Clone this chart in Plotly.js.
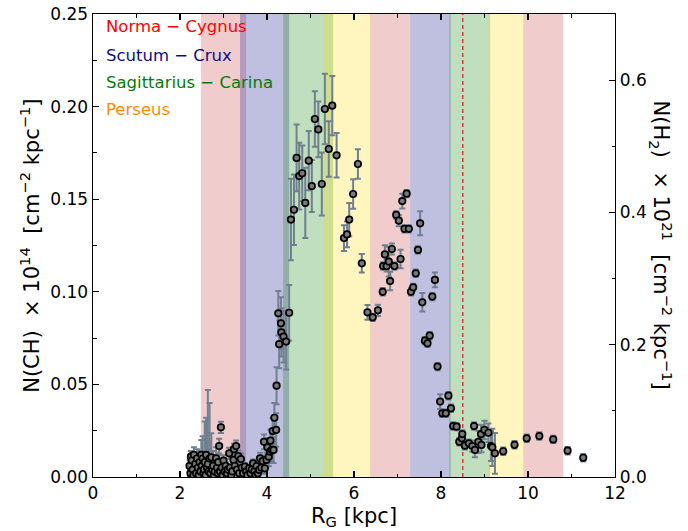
<!DOCTYPE html>
<html>
<head>
<meta charset="utf-8">
<script src="https://cdn.plot.ly/plotly-3.0.1.min.js"></script>
<style>html,body{margin:0;padding:0;background:#fff;}#chart{width:688px;height:531px;}</style>
</head>
<body>
<div id="chart"></div>
<script>
// Galactocentric radius (kpc)
const rg = [2.22,2.24,2.25,2.27,2.29,2.31,2.32,2.35,2.37,2.39,2.41,2.43,2.45,2.47,2.49,2.50,2.52,2.54,2.55,2.57,
2.59,2.60,2.62,2.64,2.66,2.68,2.70,2.72,2.74,2.76,2.78,2.80,2.83,2.85,2.87,2.88,2.90,2.92,2.94,2.96,
2.98,3.00,3.03,3.05,3.08,3.10,3.13,3.15,3.18,3.20,3.23,3.24,3.26,3.29,3.31,3.34,3.36,3.40,3.42,3.45,
3.49,3.52,3.55,3.59,3.62,3.65,3.68,3.71,3.74,3.76,3.79,3.82,3.84,3.87,3.90,3.93,3.95,3.99,4.01,4.04,
4.07,4.08,4.11,4.13,4.15,4.17,4.21,4.22,4.26,4.28,4.32,4.33,4.38,4.44,4.51,4.55,4.62,4.68,4.74,4.81,
4.88,4.96,5.03,5.10,5.18,5.26,5.33,5.42,5.50,5.60,5.77,5.84,5.89,5.98,6.09,6.18,6.31,6.43,6.55,6.66,
6.67,6.71,6.75,6.80,6.83,6.87,6.93,6.97,7.03,7.07,7.11,7.16,7.21,7.26,7.31,7.36,7.42,7.47,7.52,7.57,
7.63,7.69,7.74,7.80,7.86,7.92,7.98,8.03,8.11,8.17,8.23,8.28,8.36,8.42,8.48,8.49,8.55,8.64,8.72,8.76,
8.78,8.86,8.92,8.93,9.00,9.09,9.15,9.18,9.24,9.43,9.69,9.97,10.26,10.58,10.91,11.27];
// N(CH) x 1e14 [cm^-2 kpc^-1]
const nch = [0.006,0.002,0.011,0.009,0.004,0.001,0.012,0.007,0.002,0.010,0.005,0.001,0.008,0.003,0.012,0.006,0.010,0.002,0.004,0.008,
0.001,0.012,0.005,0.007,0.003,0.010,0.002,0.0106,0.004,0.006,0.001,0.003,0.0101,0.005,0.002,0.008,0.0167,0.003,0.0268,0.005,
0.001,0.0088,0.003,0.006,0.002,0.004,0.0128,0.005,0.001,0.003,0.0092,0.015,0.006,0.0167,0.004,0.0113,0.002,0.0097,0.005,0.002,
0.0056,0.003,0.001,0.0047,0.002,0.004,0.0074,0.003,0.001,0.0059,0.002,0.0038,0.0101,0.005,0.0086,0.019,0.0047,0.0092,0.016,0.011,
0.0137,0.0196,0.0146,0.0248,0.0146,0.032,0.0254,0.0493,0.0884,0.0717,0.083,0.0781,0.0758,0.0731,0.0887,0.139,0.1443,0.1723,0.1625,0.164,
0.148,0.1708,0.1571,0.1933,0.1877,0.1582,0.1987,0.1771,0.2005,0.1737,0.129,0.131,0.139,0.1528,0.169,0.1154,0.0889,0.0862,0.090,0.100,
0.1139,0.1202,0.1139,0.1163,0.1058,0.1231,0.1139,0.1415,0.1384,0.1177,0.149,0.134,0.153,0.134,0.100,0.1024,0.110,0.1226,0.137,0.0943,
0.0736,0.0722,0.0763,0.0974,0.1064,0.0596,0.0407,0.0344,0.0344,0.0439,0.0371,0.0275,0.0272,0.019,0.0209,0.0232,0.0169,0.0182,0.0167,0.0275,
0.0146,0.019,0.0232,0.0173,0.0254,0.0239,0.0167,0.016,0.0128,0.0139,0.0174,0.0209,0.0221,0.0203,0.0142,0.0104];
// uncertainties
const nchErr = [0.003,0.002,0.003,0.004,0.003,0.002,0.004,0.003,0.002,0.005,0.004,0.002,0.006,0.003,0.008,0.008,0.012,0.006,0.010,0.022,
0.004,0.020,0.018,0.040,0.012,0.030,0.008,0.013,0.010,0.008,0.004,0.005,0.006,0.004,0.003,0.004,0.004,0.003,0.003,0.003,
0.002,0.003,0.003,0.002,0.002,0.002,0.003,0.002,0.002,0.002,0.003,0.003,0.002,0.003,0.002,0.003,0.002,0.003,0.002,0.002,
0.002,0.002,0.002,0.002,0.002,0.002,0.002,0.002,0.002,0.002,0.002,0.002,0.003,0.003,0.003,0.004,0.003,0.004,0.005,0.005,
0.006,0.006,0.006,0.007,0.007,0.008,0.009,0.010,0.012,0.013,0.014,0.013,0.014,0.015,0.015,0.022,0.019,0.018,0.018,0.015,
0.019,0.016,0.014,0.015,0.015,0.017,0.019,0.015,0.016,0.012,0.007,0.007,0.009,0.008,0.008,0.005,0.004,0.002,0.003,0.002,
0.002,0.005,0.003,0.008,0.005,0.003,0.002,0.002,0.003,0.005,0.004,0.002,0.002,0.002,0.002,0.002,0.002,0.002,0.0065,0.005,
0.002,0.002,0.002,0.002,0.004,0.002,0.004,0.002,0.002,0.002,0.002,0.002,0.002,0.002,0.002,0.002,0.002,0.002,0.003,0.002,
0.004,0.006,0.005,0.004,0.005,0.005,0.008,0.010,0.011,0.002,0.002,0.002,0.002,0.002,0.002,0.002];

// spiral arm extents (kpc)
const armNames = ["Norma \u2212 Cygnus","Scutum \u2212 Crux","Sagittarius \u2212 Carina","Perseus"];
const armColors = ["#ff0000","#0d0d8c","#008000","#ff8c00"];
const armFills = ["rgba(200,50,50,0.25)","rgba(0,0,128,0.25)","rgba(0,128,0,0.25)","rgba(255,215,0,0.25)"];
const armStart = [[2.48,6.37,9.89],[3.38,7.29],[4.37,8.19],[5.29,9.09]];
const armEnd   = [[3.52,7.29,10.81],[4.51,8.22],[5.52,9.13],[6.38,9.89]];
const sunR = 8.5;

const shapes = [];
armStart.forEach((starts, i) => {
  starts.forEach((s, j) => {
    shapes.push({type:'rect', xref:'x', yref:'paper', x0:s, x1:armEnd[i][j], y0:0, y1:1,
      fillcolor:armFills[i], line:{width:0}, layer:'below'});
  });
});
shapes.push({type:'line', xref:'x', yref:'paper', x0:sunR, x1:sunR, y0:0, y1:1,
  line:{color:'#e8202a', width:1.3, dash:'4px,3px'}, layer:'below'});

const font = "DejaVu Sans, sans-serif";
const annotations = armNames.map((n, i) => ({
  text:n, xref:'paper', yref:'paper', x:0.021, y:[0.9726,0.9114,0.8516,0.7927][i],
  xanchor:'left', yanchor:'middle', showarrow:false, font:{family:font, size:16.5, color:armColors[i]}
}));
annotations.push({text:"N(CH)  \u00d7 10<sup>14</sup>  [cm<sup>\u22122</sup> kpc<sup>\u22121</sup>]",
  xref:'paper', yref:'paper', x:-0.122, y:0.5, textangle:-90, showarrow:false,
  xanchor:'center', yanchor:'middle', font:{family:font, size:21, color:'#000'}});
annotations.push({text:"N(H<sub>2</sub>)  \u00d7 10<sup>21</sup>  [cm<sup>\u22122</sup> kpc<sup>\u22121</sup>]",
  xref:'paper', yref:'paper', x:1.09, y:0.5, textangle:90, showarrow:false,
  xanchor:'center', yanchor:'middle', font:{family:font, size:21, color:'#000'}});
annotations.push({text:"R<sub>G</sub> [kpc]", xref:'paper', yref:'paper', x:0.5, y:-0.087,
  showarrow:false, xanchor:'center', yanchor:'middle', font:{family:font, size:21, color:'#000'}});

const traces = [{
  x: rg, y: nch, type:'scatter', mode:'markers',
  error_y:{type:'data', array:nchErr, visible:true, color:'#708090', thickness:2, width:3},
  marker:{size:6.5, color:'#7a7a7a', line:{color:'#000', width:1.7}},
  showlegend:false, hoverinfo:'x+y'
},{
  x: [], y: [], yaxis:'y2', type:'scatter', mode:'markers', showlegend:false, hoverinfo:'skip'
}];

const layout = {
  width:688, height:531,
  margin:{l:93, r:73, t:14, b:54},
  paper_bgcolor:'#fff', plot_bgcolor:'#fff',
  font:{family:font, size:16, color:'#000'},
  showlegend:false,
  xaxis:{range:[0,12], dtick:2, tick0:0, ticks:'inside', ticklen:6, tickwidth:1.2, tickcolor:'#000',
    showline:true, linecolor:'#000', linewidth:1.4, mirror:'ticks', showgrid:false, zeroline:false,
    tickfont:{family:font, size:17},
    minor:{dtick:1, ticks:'inside', ticklen:3.5, tickcolor:'#000', tickwidth:1, showgrid:false}},
  yaxis:{range:[0,0.25], dtick:0.05, tick0:0, tickformat:'.2f', ticks:'inside', ticklen:6, tickwidth:1.2, tickcolor:'#000',
    showline:true, linecolor:'#000', linewidth:1.4, mirror:true, showgrid:false, zeroline:false,
    tickfont:{family:font, size:17},
    minor:{dtick:0.025, ticks:'inside', ticklen:3.5, tickcolor:'#000', tickwidth:1, showgrid:false}},
  yaxis2:{range:[0,0.7], overlaying:'y', side:'right', dtick:0.2, tick0:0, tickformat:'.1f', ticks:'inside', ticklen:6, tickwidth:1.2,
    tickcolor:'#000', showline:true, linecolor:'#000', linewidth:1.4, showgrid:false, zeroline:false,
    tickfont:{family:font, size:17},
    minor:{dtick:0.1, ticks:'inside', ticklen:3.5, tickcolor:'#000', tickwidth:1, showgrid:false}},
  shapes: shapes,
  annotations: annotations
};

Plotly.newPlot('chart', traces, layout, {displayModeBar:false, staticPlot:true});
</script>
</body>
</html>
